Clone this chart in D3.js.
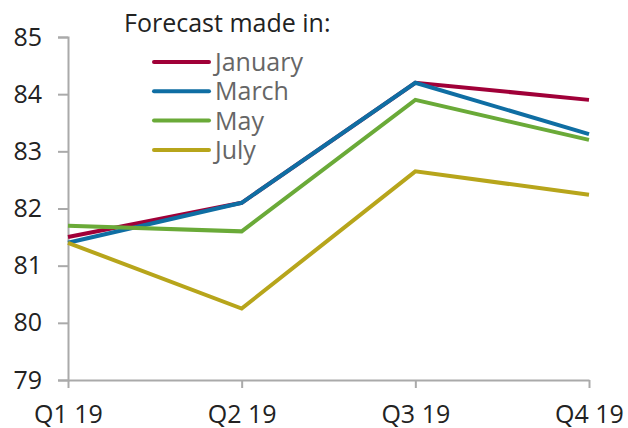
<!DOCTYPE html>
<html>
<head>
<meta charset="utf-8">
<script src="https://cdn.jsdelivr.net/npm/d3@7"></script>
<style>
  html, body { margin: 0; padding: 0; background: #fff; }
  svg { display: block; font-family: "Open Sans", sans-serif; }
</style>
</head>
<body>
<svg id="chart" width="628" height="428"></svg>
<script>
const categories = ["Q1 19", "Q2 19", "Q3 19", "Q4 19"];
const seriesNames = ["January", "March", "May", "July"];
const january = [81.5, 82.1, 84.2, 83.9];
const march   = [81.4, 82.1, 84.2, 83.3];
const may     = [81.7, 81.6, 83.9, 83.2];
const july    = [81.4, 80.25, 82.65, 82.24];
const yTicks  = [79, 80, 81, 82, 83, 84, 85];
const legendTitle = "Forecast made in:";

const colors = ["#a00038", "#0f6ea3", "#6aaa38", "#b7a51b"];
const seriesValues = [january, march, may, july];

const svg = d3.select("#chart");
const x = d3.scalePoint().domain(categories).range([68, 589]);
const y = d3.scaleLinear().domain([79, 85]).range([380, 37]);

// Y axis
const yAxis = svg.append("g")
  .attr("transform", "translate(68,0)")
  .call(d3.axisLeft(y).tickValues(yTicks).tickSize(10).tickPadding(16).tickFormat(d3.format("d")));
yAxis.select(".domain").attr("stroke", "#aaaaaa").attr("stroke-width", 2);
yAxis.selectAll(".tick line").attr("stroke", "#aaaaaa").attr("stroke-width", 2);
yAxis.selectAll(".tick text").attr("fill", "#222").attr("font-size", 25)
  .attr("font-family", "'Open Sans', sans-serif");

// X axis
const xAxis = svg.append("g")
  .attr("transform", "translate(0,380)")
  .call(d3.axisBottom(x).tickSize(8).tickSizeOuter(0).tickPadding(17));
xAxis.select(".domain").attr("stroke", "#aaaaaa").attr("stroke-width", 2);
xAxis.selectAll(".tick line").attr("stroke", "#aaaaaa").attr("stroke-width", 2);
xAxis.selectAll(".tick text").attr("fill", "#222").attr("font-size", 25)
  .attr("font-family", "'Open Sans', sans-serif");

// Lines
const line = d3.line().x((d, i) => x(categories[i])).y(d => y(d));
seriesValues.forEach((vals, k) => {
  svg.append("path")
    .datum(vals)
    .attr("fill", "none")
    .attr("stroke", colors[k])
    .attr("stroke-width", 4)
    .attr("stroke-linejoin", "miter")
    .attr("d", line);
});

// Legend
svg.append("text")
  .attr("x", 124).attr("y", 32)
  .attr("font-size", 25).attr("fill", "#222")
  .text(legendTitle);
const leg = svg.append("g");
seriesNames.forEach((name, k) => {
  const cy = 62 + k * 29.3;
  leg.append("line")
    .attr("x1", 154).attr("x2", 209)
    .attr("y1", cy).attr("y2", cy)
    .attr("stroke", colors[k]).attr("stroke-width", 4)
    .attr("stroke-linecap", "round");
  leg.append("text")
    .attr("x", 215).attr("y", cy + 9)
    .attr("font-size", 25).attr("fill", "#666")
    .text(name);
});
</script>
</body>
</html>
